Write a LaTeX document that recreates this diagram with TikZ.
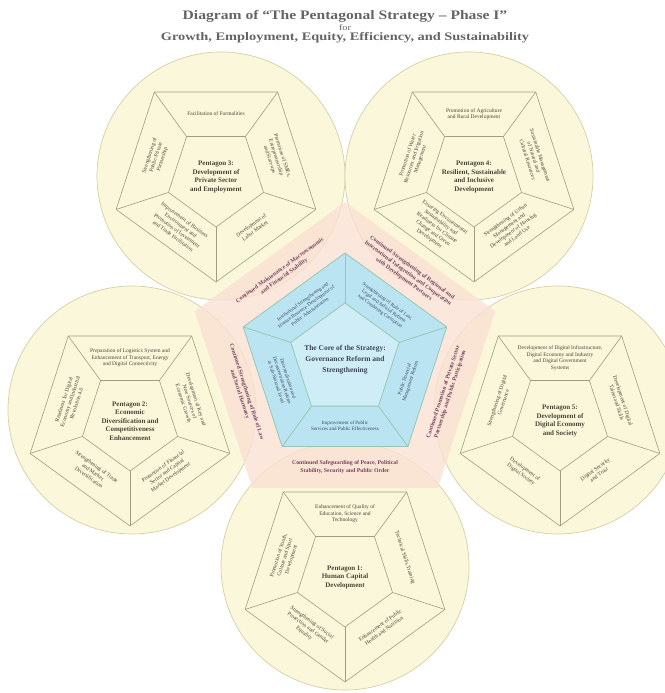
\documentclass[tikz,border=0pt]{standalone}
\usepackage{fontspec}
\setmainfont{Liberation Serif}
\usetikzlibrary{shapes.geometric,calc}
\definecolor{ringfill}{RGB}{250,247,219}
\definecolor{ringline}{RGB}{214,208,164}
\definecolor{envfill}{RGB}{250,225,211}
\definecolor{corefill}{RGB}{186,228,241}
\definecolor{coreinner}{RGB}{206,237,246}
\definecolor{coreline}{RGB}{150,200,175}
\definecolor{pentline}{RGB}{160,158,126}
\definecolor{sidetext}{RGB}{72,70,54}
\definecolor{envtext}{RGB}{116,66,100}
\definecolor{coretext}{RGB}{60,70,88}
\definecolor{titletext}{RGB}{100,100,100}

\begin{document}
\begin{tikzpicture}[x=1pt,y=1pt,
  ring/.style={circle,draw=ringline,line width=0.7pt,fill=ringfill,minimum size=248pt,inner sep=0pt},
  outer pent/.style={regular polygon,regular polygon sides=5,shape border rotate=180,draw=pentline,line width=0.6pt,minimum size=210pt,inner sep=0pt,outer sep=0pt},
  inner pent/.style={outer pent,minimum size=100pt},
  spoke/.style={draw=pentline,line width=0.6pt},
  env pent/.style={regular polygon,regular polygon sides=5,fill=envfill,fill opacity=0.8,minimum size=316pt,inner sep=0pt,outer sep=0pt},
  core pent/.style={regular polygon,regular polygon sides=5,draw=coreline,line width=0.8pt,fill=corefill,minimum size=214pt,inner sep=0pt,outer sep=0pt},
  core inner/.style={core pent,fill=coreinner,minimum size=114pt},
  pent title/.style={align=center,inner sep=0pt,text=sidetext,font=\fontsize{7}{8.5}\selectfont\bfseries},
  side text/.style={align=center,inner sep=0pt,text=sidetext,font=\fontsize{5.5}{6.6}\selectfont},
  core title/.style={align=center,inner sep=0pt,text=coretext,font=\fontsize{7.5}{11}\selectfont\bfseries},
  core text/.style={align=center,inner sep=0pt,text=coretext,font=\fontsize{5}{6.2}\selectfont},
  env text/.style={align=center,inner sep=0pt,text=envtext,font=\fontsize{5.8}{7.2}\selectfont\bfseries},
  head/.style={inner sep=0pt,text=titletext,font=\fontsize{13}{15}\selectfont\bfseries}]
  \useasboundingbox (0,0) rectangle (664,693);

  \node[head] (title) at (345,677) {\scalebox{1.2}[1]{Diagram of “The Pentagonal Strategy – Phase I”}};
  \node[inner sep=0pt,text=titletext,font=\fontsize{8.5}{10}\selectfont] (for) at (345,665) {\scalebox{1.2}[1]{for}};
  \node[head,font=\fontsize{11.5}{13}\selectfont\bfseries] (goals) at (345,655) {\scalebox{1.25}[1]{Growth, Employment, Equity, Efficiency, and Sustainability}};

  \node[ring] (r3) at (221,517) {};
  \node[ring] (r4) at (469,517) {};
  \node[ring] (r2) at (132,283) {};
  \node[ring] (r5) at (558,283) {};
  \node[ring] (r1) at (345,127) {};

  \node[env pent] (env) at (345,333) {};

  % Pentagon 3
  \node[outer pent] (p3) at (216,516) {};
  \node[inner pent] (p3c) at (216,516) {};
  \foreach \k in {1,...,5} \draw[spoke] (p3.corner \k) -- (p3c.corner \k);
  \node[pent title] (t3) at (p3c) {Pentagon 3:\\Development of\\Private Sector\\and Employment};
  \node[side text] (s3a) at ($(p3)+(90:63)$) {Facilitation of Formalities};
  \node[side text,rotate=-72] (s3b) at ($(p3)+(18:63)$) {Promotion of SMEs,\\Entrepreneurship\\and Start-ups};
  \node[side text,rotate=36] (s3c) at ($(p3)+(-54:63)$) {Development of\\Labor Market};
  \node[side text,rotate=-36] (s3d) at ($(p3)+(234:63)$) {Improvement of Business\\Environment and\\Promotion of Investment\\and Trade Facilitation};
  \node[side text,rotate=72] (s3e) at ($(p3)+(162:63)$) {Strengthening of\\Public-Private\\Partnership};

  % Pentagon 4
  \node[outer pent] (p4) at (474,516) {};
  \node[inner pent] (p4c) at (474,516) {};
  \foreach \k in {1,...,5} \draw[spoke] (p4.corner \k) -- (p4c.corner \k);
  \node[pent title] (t4) at (p4c) {Pentagon 4:\\Resilient, Sustainable\\and Inclusive\\Development};
  \node[side text] (s4a) at ($(p4)+(90:63)$) {Promotion of Agriculture\\and Rural Development};
  \node[side text,rotate=-72] (s4b) at ($(p4)+(18:63)$) {Sustainable Management\\of Natural and\\Cultural Resources};
  \node[side text,rotate=36] (s4c) at ($(p4)+(-54:63)$) {Strengthening of Urban\\Management and\\Development of Housing\\and Land Use};
  \node[side text,rotate=-36] (s4d) at ($(p4)+(234:63)$) {Ensuring Environmental\\Sustainability and\\Readiness for Climate\\Change and Green\\Development};
  \node[side text,rotate=72] (s4e) at ($(p4)+(162:63)$) {Promotion of Water\\Resources and Irrigation\\Management};

  % Pentagon 2
  \node[outer pent] (p2) at (130,272) {};
  \node[inner pent] (p2c) at (130,272) {};
  \foreach \k in {1,...,5} \draw[spoke] (p2.corner \k) -- (p2c.corner \k);
  \node[pent title] (t2) at (p2c) {Pentagon 2:\\Economic\\Diversification and\\Competitiveness\\Enhancement};
  \node[side text] (s2a) at ($(p2)+(90:63)$) {Preparation of Logistics System and\\Enhancement of Transport, Energy\\and Digital Connectivity};
  \node[side text,rotate=-72] (s2b) at ($(p2)+(18:63)$) {Development of Key and\\New Sources of\\Economic Growth};
  \node[side text,rotate=36] (s2c) at ($(p2)+(-54:63)$) {Promotion of Financial\\Sector and Capital\\Market Development};
  \node[side text,rotate=-36] (s2d) at ($(p2)+(234:63)$) {Strengthening of Trade\\and Market\\Diversification};
  \node[side text,rotate=72] (s2e) at ($(p2)+(162:63)$) {Readiness for Digital\\Economy and Industrial\\Revolution 4.0};

  % Pentagon 5
  \node[outer pent] (p5) at (560,272) {};
  \node[inner pent] (p5c) at (560,272) {};
  \foreach \k in {1,...,5} \draw[spoke] (p5.corner \k) -- (p5c.corner \k);
  \node[pent title] (t5) at (p5c) {Pentagon 5:\\Development of\\Digital Economy\\and Society};
  \node[side text] (s5a) at ($(p5)+(90:63)$) {Development of Digital Infrastructure,\\Digital Economy and Industry\\and Digital Government\\Systems};
  \node[side text,rotate=-72] (s5b) at ($(p5)+(18:63)$) {Development of Digital\\Talent and Skills};
  \node[side text,rotate=36] (s5c) at ($(p5)+(-54:63)$) {Digital Security\\and Trust};
  \node[side text,rotate=-36] (s5d) at ($(p5)+(234:63)$) {Development of\\Digital Society};
  \node[side text,rotate=72] (s5e) at ($(p5)+(162:63)$) {Strengthening of Digital\\Governance};

  % Pentagon 1
  \node[outer pent] (p1) at (345,116) {};
  \node[inner pent] (p1c) at (345,116) {};
  \foreach \k in {1,...,5} \draw[spoke] (p1.corner \k) -- (p1c.corner \k);
  \node[pent title] (t1) at (p1c) {Pentagon 1:\\Human Capital\\Development};
  \node[side text] (s1a) at ($(p1)+(90:63)$) {Enhancement of Quality of\\Education, Science and\\Technology};
  \node[side text,rotate=-72] (s1b) at ($(p1)+(18:63)$) {Technical Skills Training};
  \node[side text,rotate=36] (s1c) at ($(p1)+(-54:63)$) {Enhancement of Public\\Health and Nutrition};
  \node[side text,rotate=-36] (s1d) at ($(p1)+(234:63)$) {Strengthening of Social\\Protection and Gender\\Equality};
  \node[side text,rotate=72] (s1e) at ($(p1)+(162:63)$) {Promotion of Youth,\\Culture and Sport\\Development};

  % environment
  \node[env text] (e1) at ($(env)+(270:107)$) {Continued Safeguarding of Peace, Political\\Stability, Security and Public Order};
  \node[env text,rotate=36] (e2) at ($(env)+(126:107)$) {Continued Maintenance of Macroeconomic\\and Financial Stability};
  \node[env text,rotate=-36] (e3) at ($(env)+(54:107)$) {Continued Strengthening of Regional and\\International Integration and Cooperation\\with Development Partners};
  \node[env text,rotate=72] (e4) at ($(env)+(-18:107)$) {Continued Promotion of Private Sector\\Partnership and Public Participation};
  \node[env text,rotate=-72] (e5) at ($(env)+(198:107)$) {Continued Strengthening of Rule of Law\\and Social Harmony};

  % core
  \node[core pent] (core) at (345,333) {};
  \node[core inner] (corec) at (345,333) {};
  \foreach \k in {1,...,5} \draw[coreline,line width=0.8pt] (core.corner \k) -- (corec.corner \k);
  \node[core title] (ct) at (corec) {The Core of the Strategy:\\Governance Reform and\\Strengthening};
  \node[core text,rotate=36] (c1) at ($(core)+(126:66)$) {Institutional Strengthening and\\Human Resource Development of\\Public Administration};
  \node[core text,rotate=-36] (c2) at ($(core)+(54:66)$) {Strengthening of Rule of Law,\\Legal and Judicial Reform\\and Combating Corruption};
  \node[core text,rotate=72] (c3) at ($(core)+(-18:66)$) {Public Financial\\Management Reform};
  \node[core text] (c4) at ($(core)+(270:66)$) {Improvement of Public\\Services and Public Effectiveness};
  \node[core text,rotate=-72] (c5) at ($(core)+(198:66)$) {Decentralization and\\Deconcentration Reform\\at Sub-National Level};
\end{tikzpicture}
\end{document}
